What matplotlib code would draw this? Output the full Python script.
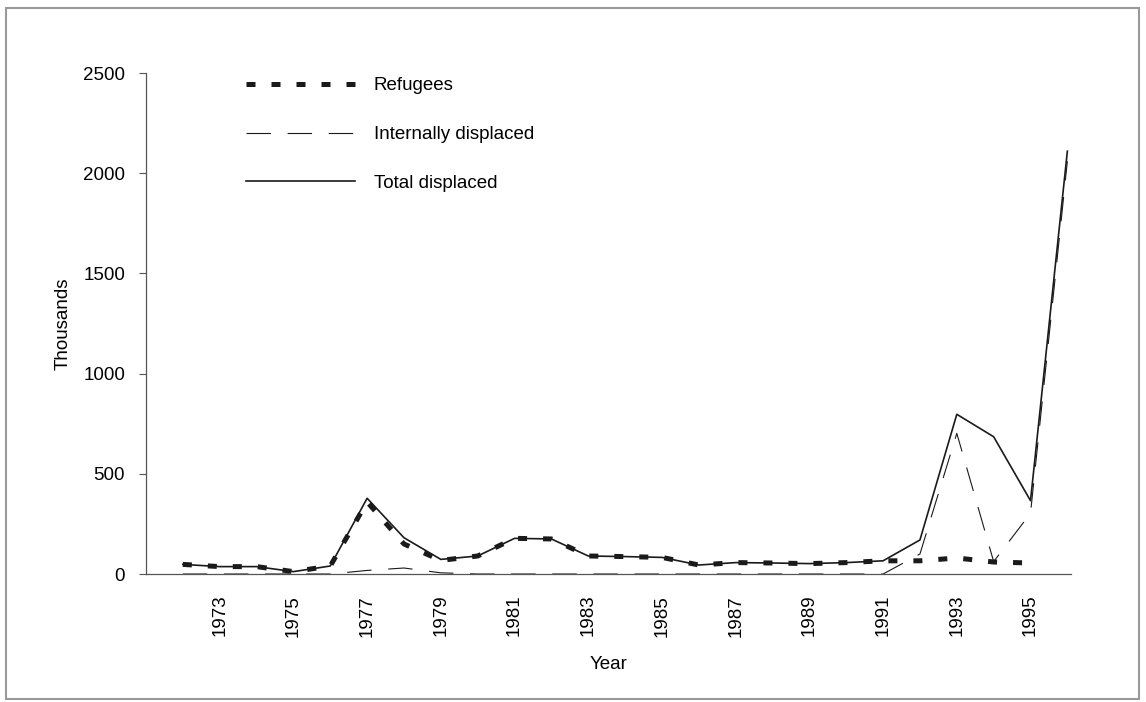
import numpy as np
import matplotlib.pyplot as plt
from matplotlib.patches import Rectangle

plt.rcParams['font.family'] = ['Liberation Sans', 'DejaVu Sans']

# datos (miles)
years = list(range(1972, 1997))
total = [48, 37, 37, 12, 40, 378, 181, 73, 90, 178, 175, 90, 87,
         83, 45, 57, 55, 52, 57, 66, 170, 797, 685, 366, 2110]
refugees = [48, 37, 37, 12, 40, 360, 150, 68, 90, 178, 175, 90, 87,
            83, 45, 57, 55, 52, 57, 66, 66, 80, 60, 55, np.nan]
internal = [0, 0, 0, 0, 0, 18, 30, 6, 0, 0, 0, 0, 0,
            0, 0, 0, 0, 0, 0, 0, 100, 702, 62, 303, 2060]

tick_years = list(range(1973, 1996, 2))
yticks = [0, 500, 1000, 1500, 2000, 2500]

LINE = '#1a1a1a'
AXC = '#555555'

fig = plt.figure(figsize=(11.46, 7.02), dpi=100)
ax = fig.add_axes([0.1274, 0.1823, 0.8072, 0.7137])

ax.plot(years, refugees, color=LINE, lw=3.6, dashes=(1.8, 3.2),
        solid_capstyle='butt', dash_capstyle='butt', label='Refugees', zorder=3)
ax.plot(years, internal, color=LINE, lw=0.8, dashes=(22, 15),
        label='Internally displaced', zorder=2)
ax.plot(years, total, color=LINE, lw=1.2, label='Total displaced', zorder=4)

ax.set_xlim(1971.0, 1996.1)
ax.set_ylim(0, 2500)
ax.set_xticks(tick_years)
ax.set_xticklabels([str(y) for y in tick_years], rotation=90, fontsize=13.5)
ax.set_yticks(yticks)
ax.set_yticklabels([str(v) for v in yticks], fontsize=13.5)
ax.tick_params(axis='x', length=0, pad=15)
ax.tick_params(axis='y', length=5, width=0.8, color=AXC, pad=10)

for s in ['top', 'right']:
    ax.spines[s].set_visible(False)
for s in ['left', 'bottom']:
    ax.spines[s].set_color(AXC)
    ax.spines[s].set_linewidth(0.9)

ax.set_xlabel('Year', fontsize=13.5, labelpad=14)
ax.set_ylabel('Thousands', fontsize=13.5, labelpad=8)

leg = ax.legend(loc='upper left', bbox_to_anchor=(0.09, 1.025), frameon=False,
                fontsize=13.5, handlelength=5.8, handletextpad=1.0,
                labelspacing=1.68)

# marco exterior
fig.add_artist(Rectangle((0.005, 0.004), 0.989, 0.985, transform=fig.transFigure,
                         fill=False, edgecolor='#999999', lw=1.5))

fig.savefig('out.png', dpi=100)
